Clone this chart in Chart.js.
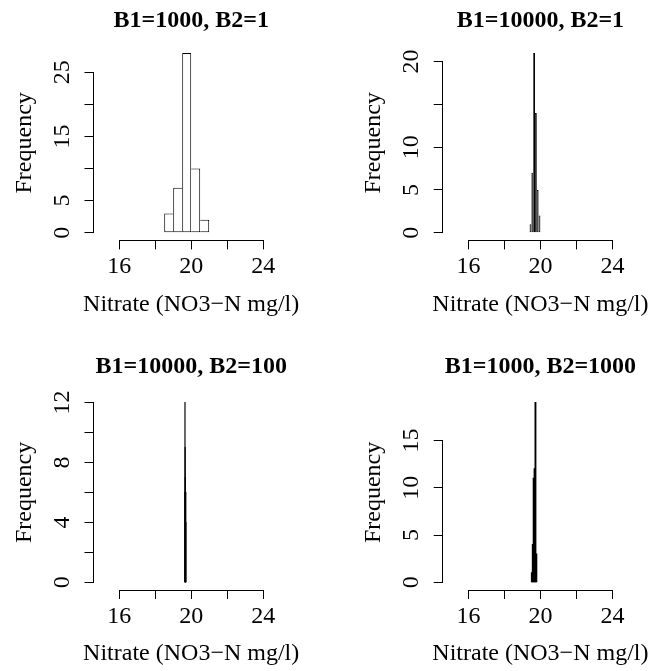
<!DOCTYPE html>
<html><head><meta charset="utf-8">
<script src="https://cdn.jsdelivr.net/npm/chart.js@4/dist/chart.umd.min.js"></script>
<style>
html,body{margin:0;padding:0;background:#fff;}
#wrap{position:relative;width:656px;height:671px;overflow:hidden;background:#fff;}
canvas{position:absolute;}
</style></head><body>
<div id="wrap">
<canvas id="c1" width="328" height="335" style="left:0px;top:0px"></canvas>
<canvas id="c2" width="328" height="335" style="left:328px;top:0px"></canvas>
<canvas id="c3" width="328" height="336" style="left:0px;top:335px"></canvas>
<canvas id="c4" width="328" height="336" style="left:328px;top:335px"></canvas>
</div>
<script>
// ---- data ----
const panelTitles = ['B1=1000, B2=1', 'B1=10000, B2=1', 'B1=10000, B2=100', 'B1=1000, B2=1000'];
const xLabel = 'Nitrate (NO3\u2212N mg/l)';
const yLabel = 'Frequency';
const xTickValues = [16, 18, 20, 22, 24];
const xTickLabels = ['16', '', '20', '', '24'];

const binStart1 = [18.5, 19.0, 19.5, 20.0, 20.5];
const counts1 = [3, 7, 28, 10, 2];
const binStart2 = [19.4, 19.5, 19.6, 19.7, 19.8, 19.9];
const counts2 = [1, 7, 21, 14, 5, 2];
const binStart3 = [19.64, 19.65, 19.66, 19.67, 19.68, 19.69, 19.70];
const counts3 = [6, 12, 9, 7, 6, 6, 4];
const binStart4 = [19.50, 19.55, 19.60, 19.65, 19.70, 19.75];
const counts4 = [1, 4, 11, 12, 19, 3];
const binWidths = [0.5, 0.1, 0.01, 0.05];

const yTicks1 = [0, 5, 10, 15, 20, 25];
const yTickLabels1 = ['0', '5', '', '15', '', '25'];
const yTicks2 = [0, 5, 10, 15, 20];
const yTickLabels2 = ['0', '5', '10', '', '20'];
const yTicks3 = [0, 2, 4, 6, 8, 10, 12];
const yTickLabels3 = ['0', '', '4', '', '8', '', '12'];
const yTicks4 = [0, 5, 10, 15];
const yTickLabels4 = ['0', '5', '10', '15'];

// ---- layout (canvas coords) ----
const FONT = "'Liberation Serif', 'Times New Roman', serif";
const X_MIN = 14.6, X_MAX = 25.4;
const geoTop = {H: 335, T: 45.8, B: 239.9, tc: 21};
const geoBot = {H: 336, T: 60.4, B: 254.5, tc: 31.8};

const axisLinePlugin = {
  id: 'rAxisLines',
  afterDraw(chart) {
    const {ctx, chartArea} = chart;
    const xs = chart.scales.x, ys = chart.scales.y;
    ctx.save();
    ctx.strokeStyle = '#000';
    ctx.lineWidth = 1;
    ctx.beginPath();
    const yb = Math.round(chartArea.bottom) + 0.5;
    const x0 = Math.round(xs.getPixelForValue(xs.ticks[0].value) - 0.5) + 0.5;
    const x1 = Math.round(xs.getPixelForValue(xs.ticks[xs.ticks.length - 1].value) - 0.5) + 0.5;
    ctx.moveTo(x0, yb); ctx.lineTo(x1, yb);
    const xl = Math.round(chartArea.left) - 0.5;
    const y0 = Math.round(ys.getPixelForValue(ys.ticks[0].value) - 0.5) + 0.5;
    const y1 = Math.round(ys.getPixelForValue(ys.ticks[ys.ticks.length - 1].value) - 0.5) + 0.5;
    ctx.moveTo(xl, y0); ctx.lineTo(xl, y1);
    ctx.stroke();
    // x-axis title (drawn without width compression, as in the original)
    ctx.fillStyle = '#000';
    ctx.font = '24px ' + FONT;
    ctx.textAlign = 'center';
    ctx.textBaseline = 'middle';
    ctx.fillText(xLabel, (chartArea.left + chartArea.right) / 2, chartArea.bottom + 64.4);
    ctx.restore();
  }
};

function edgeWidths(counts) {
  return (c) => {
    const i = c.dataIndex;
    const v = counts[i];
    const prev = i > 0 ? counts[i - 1] : 0;
    const next = i < counts.length - 1 ? counts[i + 1] : 0;
    return {top: 1, bottom: 1, left: v >= prev ? 1 : 0, right: v > next ? 1 : 0};
  };
}

// style: 'open' = white bars with outlines, 'thin' = dark outlined bars, 'line' = sub-pixel bins drawn as strokes
function makePanel(id, geo, L, title, binStart, counts, binW, yTicks, yTickLabels, style) {
  const W = 328;
  const R = L + (X_MAX - X_MIN) * 18;
  const maxC = Math.max(...counts);
  const data = binStart.map((s, i) => ({x: s + binW / 2, y: counts[i]}));
  const tickFont = {family: FONT, size: 24, lineHeight: 1};
  const gridOpts = {display: true, offset: false, drawOnChartArea: false, drawTicks: true, tickLength: 9.5, color: '#000', lineWidth: 1};
  return new Chart(document.getElementById(id), {
    type: 'bar',
    data: {datasets: [{
      data: data,
      backgroundColor: style === 'open' ? '#fff' : (style === 'thin' ? '#222' : '#000'),
      borderColor: '#000',
      borderWidth: style === 'line' ? 0 : edgeWidths(counts),
      borderSkipped: false,
      inflateAmount: style === 'line' ? 0.5 : 0,
      barPercentage: 1,
      categoryPercentage: 1
    }]},
    options: {
      responsive: false,
      animation: false,
      devicePixelRatio: 1,
      events: [],
      layout: {padding: {left: 0, top: 0, right: W - R, bottom: 0}},
      plugins: {
        legend: {display: false},
        tooltip: {enabled: false},
        title: {
          display: true, text: title, fullSize: false, color: '#000',
          font: {family: FONT, size: 24, weight: 'bold', lineHeight: 1},
          padding: {top: geo.tc - 12, bottom: geo.T - (geo.tc - 12) - 24}
        }
      },
      scales: {
        x: {
          type: 'linear', min: X_MIN, max: X_MAX, offset: false, bounds: 'data',
          afterBuildTicks: (s) => { s.ticks = xTickValues.map(v => ({value: v})); },
          afterFit: (s) => { s.height = geo.H - geo.B; },
          ticks: {autoSkip: false, maxRotation: 0, minRotation: 0, color: '#000', font: tickFont, padding: 5.5,
                  callback: (v, i) => xTickLabels[i]},
          grid: gridOpts,
          border: {display: false},
          title: {display: false}
        },
        y: {
          type: 'linear', min: -0.04 * maxC, max: 1.04 * maxC, bounds: 'data',
          afterBuildTicks: (s) => { s.ticks = yTicks.map(v => ({value: v})); },
          afterFit: (s) => { s.width = L; },
          ticks: {autoSkip: false, minRotation: 90, maxRotation: 90, crossAlign: 'center', color: '#000', font: tickFont, padding: 9.7,
                  callback: (v, i) => yTickLabels[i]},
          grid: gridOpts,
          border: {display: false},
          title: {display: true, text: yLabel, color: '#000', font: {family: FONT, size: 24, lineHeight: 1},
                  padding: {top: L - 69 - 12, bottom: 0}}
        }
      }
    },
    plugins: [axisLinePlugin]
  });
}

makePanel('c1', geoTop, 94, panelTitles[0], binStart1, counts1, binWidths[0], yTicks1, yTickLabels1, 'open');
makePanel('c2', geoTop, 115.2, panelTitles[1], binStart2, counts2, binWidths[1], yTicks2, yTickLabels2, 'thin');
makePanel('c3', geoBot, 94, panelTitles[2], binStart3, counts3, binWidths[2], yTicks3, yTickLabels3, 'line');
makePanel('c4', geoBot, 115.2, panelTitles[3], binStart4, counts4, binWidths[3], yTicks4, yTickLabels4, 'line');
</script>
</body></html>
